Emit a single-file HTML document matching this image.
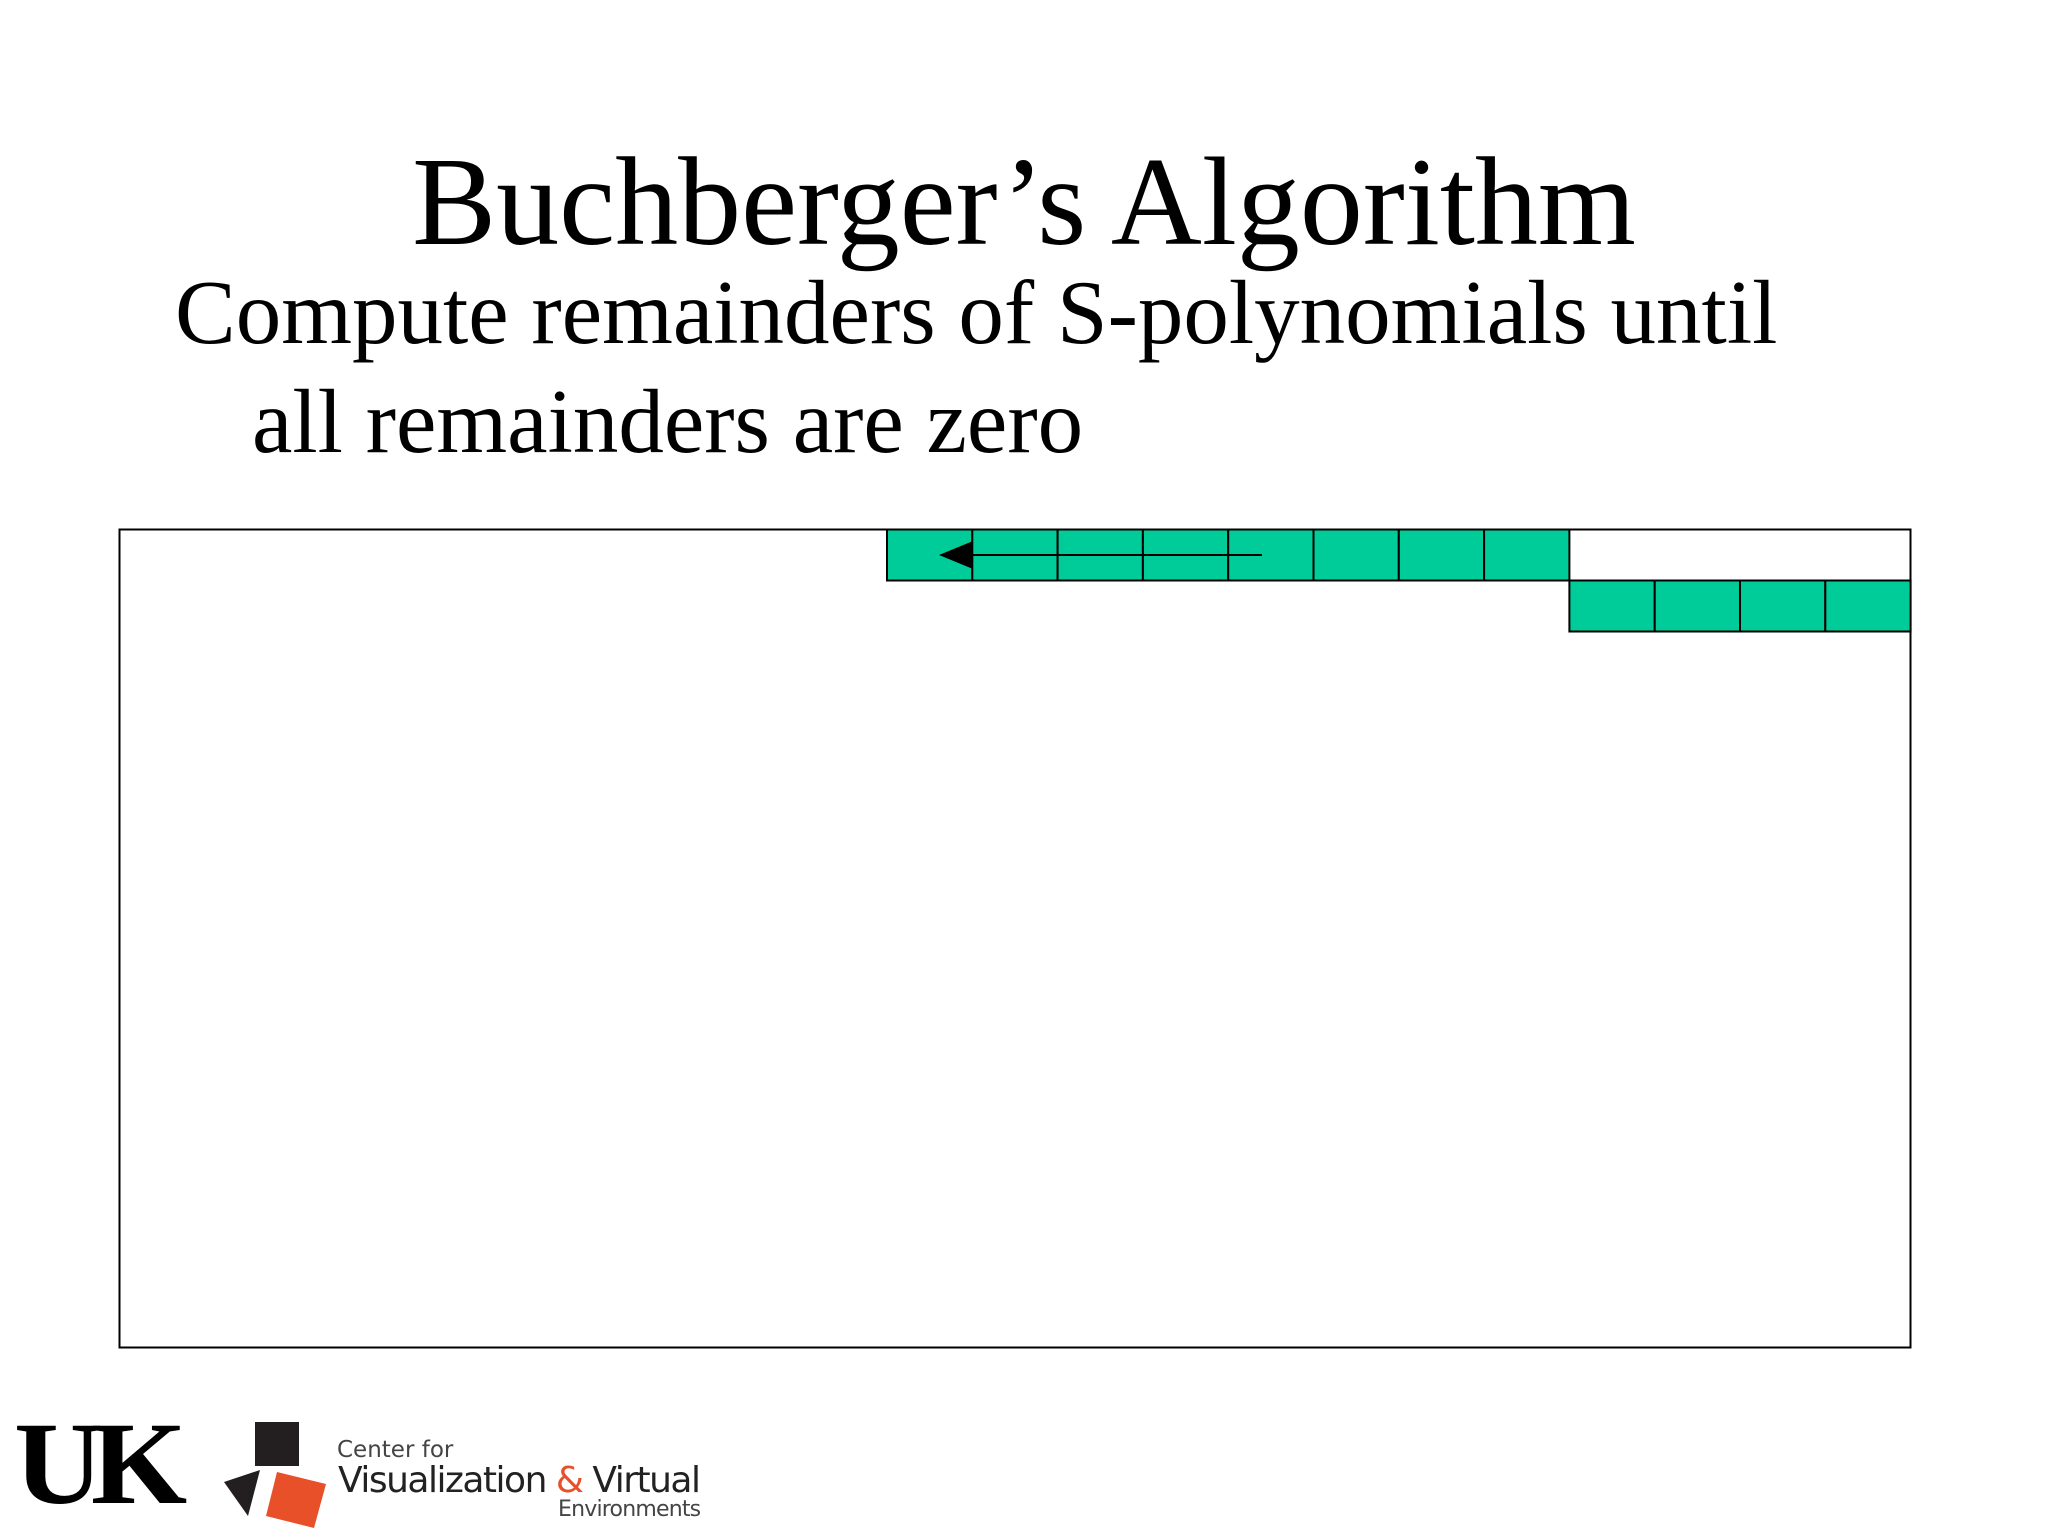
<!DOCTYPE html>
<html><head><meta charset="utf-8"><style>
body{margin:0;width:2048px;height:1536px;background:#fff;position:relative;overflow:hidden;font-family:"Liberation Serif",serif}
.t{position:absolute;white-space:nowrap;color:#000}
</style></head><body>
<div class="t" style="left:0;width:2048px;text-align:center;top:131px;font-size:126px;">Buchberger’s Algorithm</div>
<div class="t" style="left:175px;top:260px;font-size:91px;">Compute remainders of S-polynomials until</div>
<div class="t" style="left:252px;top:369px;font-size:91px;">all remainders are zero</div>
<svg width="2048" height="1536" style="position:absolute;left:0;top:0">
<rect x="119.5" y="529.5" width="1791" height="818" fill="none" stroke="#000" stroke-width="2"/>
<g id="cells" stroke="#000" stroke-width="2" fill="#00cc99"></g>
<line x1="1262" y1="555" x2="960" y2="555" stroke="#000" stroke-width="2"/>
<polygon points="939,555 973,541 973,569" fill="#000"/>
</svg>
<div class="t" style="left:14px;top:1396px;font-size:118px;font-weight:bold;letter-spacing:-12px;transform:scaleX(1.05);transform-origin:left">UK</div>
<svg width="120" height="110" style="position:absolute;left:220px;top:1422px">
<rect x="35" y="0" width="44" height="44" fill="#231f20"/>
<polygon points="4,60 40,48 28,94" fill="#231f20"/>
<polygon points="57,50 106,62 94,106 46,94" fill="#e8502a"/>
</svg>
<div class="t" style="left:337px;top:1437px;font-family:'DejaVu Sans',sans-serif;font-size:23px;color:#444">Center for</div>
<div class="t" style="left:338px;top:1460px;font-family:'DejaVu Sans',sans-serif;font-size:36px;color:#222;letter-spacing:-1.5px">Visualization <span style="color:#e8502a">&amp;</span> Virtual</div>
<div class="t" style="left:558px;top:1497px;font-family:'DejaVu Sans',sans-serif;font-size:22px;color:#444;letter-spacing:-0.8px">Environments</div>
<script>
const row1Cells=[0,1,2,3,4,5,6,7];
const row2Cells=[8,9,10,11];
const g=document.getElementById('cells');
const x0=887,w=85.3,h=51,y0=529.5;
function cell(i,r){const el=document.createElementNS('http://www.w3.org/2000/svg','rect');


el.setAttribute('x',x0+i*w);el.setAttribute('y',y0+r*h);el.setAttribute('width',w);el.setAttribute('height',h);g.appendChild(el);}
row1Cells.forEach(i=>cell(i,0));row2Cells.forEach(i=>cell(i,1));
</script>
</body></html>
